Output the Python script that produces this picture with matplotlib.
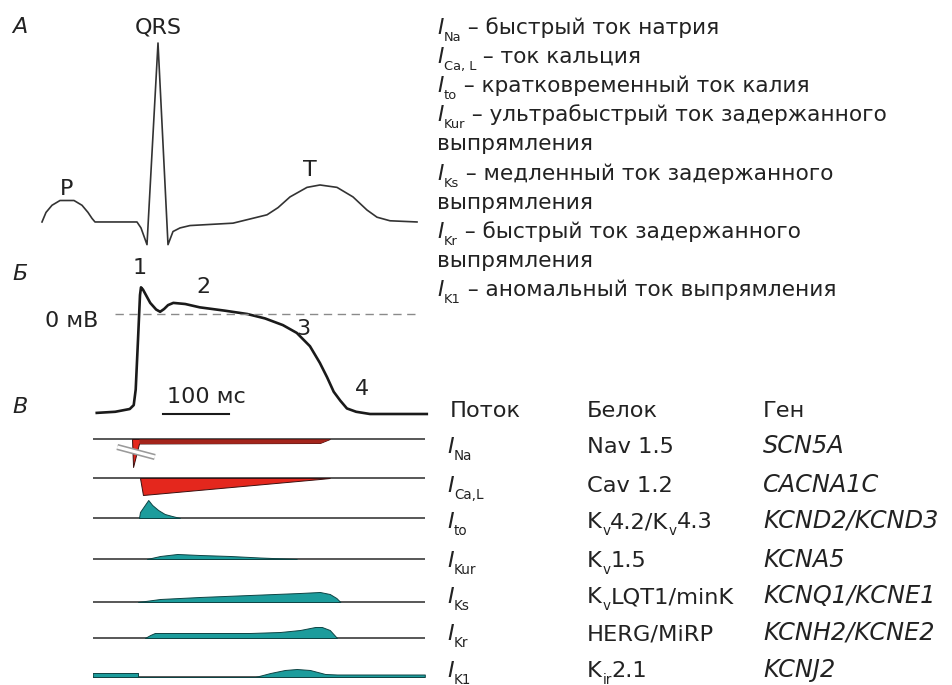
import matplotlib
matplotlib.use("Agg")
import matplotlib.pyplot as plt

plt.rcParams['font.family'] = ['DejaVu Sans']

W, H = 952, 685

# --- ECG (ms, mV) ---
ecg_t = [0, 8, 20, 36, 50, 64, 80, 92, 100, 106, 190, 198, 210, 232, 252, 262, 276, 296,
         382, 450, 472, 496, 530, 556, 590, 622, 650, 670, 696, 750]
ecg_v = [0, 0.08, 0.14, 0.18, 0.18, 0.18, 0.14, 0.08, 0.03, 0, 0, -0.05, -0.19, 1.50, -0.19,
         -0.08, -0.05, -0.03, -0.01, 0.06, 0.12, 0.21, 0.29, 0.31, 0.29, 0.21, 0.10, 0.04, 0.01, 0]

# --- action potential (ms, mV) ---
ap_t = [-61, -33, -11, -5, -2, 1.5, 4.5, 6, 9, 20, 29, 35, 41, 47, 55, 73, 95, 133, 167,
        194, 221, 242, 262, 277, 288, 298, 308, 318, 332, 353, 439]
ap_v = [-89, -88, -85.5, -82, -68, -23, 17, 24, 22, 10, 4, 2, 4.5, 8, 10, 9, 6, 3, 0,
        -4, -10, -17, -29, -44, -57, -70, -78, -85, -88, -90, -90]

# --- ionic currents (ms, arbitrary units; inward < 0) ---
na_t = [-7.6, -6, 3, 277, 292]
na_a = [0, -28, -4.5, -4, 0]
cal_t = [4.5, 9, 277, 292]
cal_a = [0, -17, -1, 0]
to_t = [3, 4.5, 17, 23, 32, 42, 53, 65]
to_a = [0, 6, 18, 13, 8, 4, 2, 0]
kur_t = [15, 35, 61, 95, 141, 186, 242]
kur_a = [0, 3, 5, 4, 3, 1.5, 0]
ks_t = [1.5, 35, 95, 171, 247, 277, 292, 302, 308]
ks_a = [0, 3, 5, 7, 9, 10, 8, 4, 0]
kr_t = [12, 20, 27, 95, 171, 217, 247, 270, 280, 292, 303]
kr_a = [0, 3, 5, 5, 5, 6, 8, 11, 11, 8, 0]
k1_t = [-67, 1.5, 1.5, 179, 202, 224, 242, 262, 285, 303, 436]
k1_a = [4, 4, 0, 0, 4, 7, 8, 7, 3, 2.5, 2.5]

currents = [(na_t, na_a, 'in'), (cal_t, cal_a, 'in'), (to_t, to_a, 'out'),
            (kur_t, kur_a, 'out'), (ks_t, ks_a, 'out'), (kr_t, kr_a, 'out'),
            (k1_t, k1_a, 'out')]
row_base = [439, 478, 518, 559, 602, 638, 677]

# legend: (subscript of I or None, text)
legend_rows = [('Na', ' – быстрый ток натрия'),
               ('Ca, L', ' – ток кальция'),
               ('to', ' – кратковременный ток калия'),
               ('Kur', ' – ультрабыстрый ток задержанного'),
               (None, 'выпрямления'),
               ('Ks', ' – медленный ток задержанного'),
               (None, 'выпрямления'),
               ('Kr', ' – быстрый ток задержанного'),
               (None, 'выпрямления'),
               ('K1', ' – аномальный ток выпрямления')]
legend_y = [34, 63, 92, 121, 150, 180, 209, 238, 267, 296]

headers = ['Поток', 'Белок', 'Ген']
flows = ['Na', 'Ca,L', 'to', 'Kur', 'Ks', 'Kr', 'K1']
# protein names as (text, is_subscript) pieces
proteins = [[('Nav 1.5', 0)],
            [('Cav 1.2', 0)],
            [('K', 0), ('v', 1), ('4.2/K', 0), ('v', 1), ('4.3', 0)],
            [('K', 0), ('v', 1), ('1.5', 0)],
            [('K', 0), ('v', 1), ('LQT1/minK', 0)],
            [('HERG/MiRP', 0)],
            [('K', 0), ('ir', 1), ('2.1', 0)]]
genes = ['SCN5A', 'CACNA1C', 'KCND2/KCND3', 'KCNA5', 'KCNQ1/KCNE1', 'KCNH2/KCNE2', 'KCNJ2']
table_y = [453, 492, 528, 567, 603, 640, 677]

RED = '#e4271d'
DARKRED = '#a3241b'
TEAL = '#1c9c9c'
INK = '#222222'

fig = plt.figure(figsize=(W / 100, H / 100), dpi=100)


def px_axes(x0, y0, x1, y1):
    ax = fig.add_axes([x0 / W, 1 - y1 / H, (x1 - x0) / W, (y1 - y0) / H])
    ax.set_axis_off()
    ax.patch.set_alpha(0)
    return ax


# ECG
ax = px_axes(42, 43, 417, 245)
ax.plot(ecg_t, ecg_v, color='#333333', lw=1.2, clip_on=False)
ax.set_xlim(0, 750)
ax.set_ylim(-0.193, 1.5)

# action potential
ax = px_axes(92.8, 280, 424.8, 420)
ax.plot(ap_t, ap_v, color='#1a1a1a', lw=1.9, clip_on=False, solid_joinstyle='round')
ax.plot([-33, 424], [0, 0], color='#8a8a8a', lw=1.0, dashes=(6, 4))
ax.plot([40, 140], [-90, -90], color='#1a1a1a', lw=1.5)
ax.set_xlim(-67, 436)
ax.set_ylim(-95.4, 30.6)

# currents
for (t, a, kind), b in zip(currents, row_base):
    ax = px_axes(92.8, b - 30, 424.8, b + 30)
    ax.plot([-67, 436], [0, 0], color='#2a2a2a', lw=1.1)
    ax.fill_between(t, a, 0, color=RED if kind == 'in' else TEAL,
                    edgecolor='#3a1010' if kind == 'in' else '#0e4444', lw=0.7, zorder=3)
    if b == row_base[0]:
        ax.fill_between(t[2:], a[2:], 0, color=DARKRED, lw=0, zorder=3)
        ax.plot([-30, 27], [-8, -18], color='#9a9a9a', lw=4.5, zorder=4, solid_capstyle='butt')
        ax.plot([-30, 27], [-8, -18], color='white', lw=2.2, zorder=5, solid_capstyle='butt')
    ax.set_xlim(-67, 436)
    ax.set_ylim(-30, 30)

# text layer
tx = px_axes(0, 0, W, H)
tx.set_xlim(0, W)
tx.set_ylim(H, 0)


def rich(x, y, pieces, size, italic=False):
    """pieces: list of (text, is_sub, is_italic); chained left to right."""
    base = prev = None
    for text, sub, it in pieces:
        fs = size * 0.6 if sub else size
        st = 'italic' if (it or italic) else 'normal'
        if prev is None:
            a = tx.text(x, y, text, fontsize=fs, style=st, va='baseline', color=INK)
            base = a
        else:
            a = tx.annotate(text, xy=(1, 0), xycoords=(prev, base),
                            xytext=(0.3 if sub else 0, -4.2 if sub else 0),
                            textcoords='offset points', fontsize=fs, style=st,
                            va='bottom', ha='left', color=INK)
        prev = a


lab = dict(fontsize=16, color=INK, va='baseline')
tx.text(12, 33, 'A', style='italic', **lab)
tx.text(158, 33, 'QRS', ha='center', **lab)
tx.text(67, 195, 'P', ha='center', **lab)
tx.text(310, 176, 'T', ha='center', **lab)
tx.text(12, 280, 'Б', style='italic', **lab)
tx.text(140, 274, '1', ha='center', **lab)
tx.text(203, 293, '2', ha='center', **lab)
tx.text(45, 327, '0 мВ', **lab)
tx.text(303, 335, '3', ha='center', **lab)
tx.text(362, 395, '4', ha='center', **lab)
tx.text(206, 403, '100 мс', ha='center', **lab)
tx.text(12, 413, 'В', style='italic', **lab)

for (sub, desc), y in zip(legend_rows, legend_y):
    if sub is None:
        rich(437, y, [(desc, 0, 0)], 15.6)
    else:
        rich(437, y, [('I', 0, 1), (sub, 1, 0), (desc, 0, 0)], 15.6)

for s, x in zip(headers, [450, 587, 763]):
    tx.text(x, 417, s, fontsize=16.2, color=INK, va='baseline')
for f, p, g, y in zip(flows, proteins, genes, table_y):
    rich(447, y, [('I', 0, 1), (f, 1, 0)], 16.2)
    rich(587, y, [(s, sb, 0) for s, sb in p], 16.2)
    tx.text(763, y, g, fontsize=17.3, style='italic', color=INK, va='baseline')

fig.savefig('out.png', dpi=100)
